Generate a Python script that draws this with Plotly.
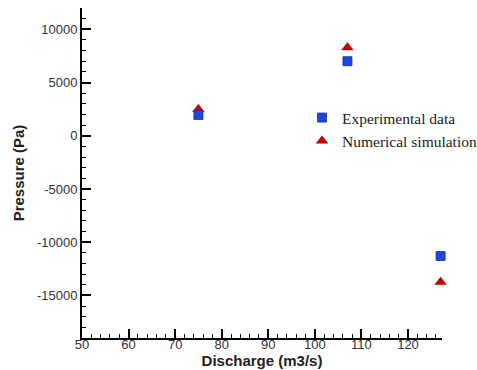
import plotly.graph_objects as go

discharge = [75, 107, 127]
experimental = [1950, 7000, -11300]
numerical = [2500, 8300, -13750]

x_ticks = [50, 60, 70, 80, 90, 100, 110, 120]
y_ticks = [-15000, -10000, -5000, 0, 5000, 10000]
y_tick_labels = ["-15000", "-10000", "-5000", "0", "5000", "10000"]

fig = go.Figure()
fig.add_trace(go.Scatter(
    x=discharge, y=numerical, mode="markers", name="Numerical simulation",
    marker=dict(symbol="triangle-up", size=10, color="#cc0000",
                line=dict(color="#990000", width=0.5)),
    cliponaxis=False,
))
fig.add_trace(go.Scatter(
    x=discharge, y=experimental, mode="markers", name="Experimental data",
    marker=dict(symbol="square", size=9, color="#1f45e0",
                line=dict(color="#1030a0", width=0.8)),
    cliponaxis=False,
))

axis_common = dict(
    showgrid=False, zeroline=False, showline=True, linecolor="black", linewidth=2,
    ticks="inside", ticklen=9, tickwidth=2, tickcolor="black",
    tickfont=dict(family="Liberation Sans, Arial", size=13, color="#333333"),
    mirror=False,
)

fig.update_layout(
    width=477, height=370,
    margin=dict(l=82, r=35, t=8, b=32, autoexpand=False),
    paper_bgcolor="white", plot_bgcolor="white",
    showlegend=True,
    legend=dict(
        x=(302 - 82) / 360, y=1 - (101 - 8) / 330, xanchor="left", yanchor="top",
        traceorder="reversed",
        font=dict(family="Liberation Serif, Times New Roman", size=15.5, color="#222222"),
        bgcolor="rgba(0,0,0,0)", itemwidth=30, tracegroupgap=0,
    ),
    xaxis=dict(
        range=[50, 127.3], tickvals=x_ticks, ticklabelstandoff=-7,
        minor=dict(dtick=2, ticks="inside", ticklen=4, tickwidth=1, tickcolor="black"),
        title=dict(text="<b>Discharge (m3/s)</b>", standoff=0,
                   font=dict(family="Liberation Sans, Arial", size=15, color="#222222")),
        **axis_common,
    ),
    yaxis=dict(
        range=[-19000, 12000], tickvals=y_ticks, ticktext=y_tick_labels,
        minor=dict(dtick=1000, ticks="inside", ticklen=4, tickwidth=1, tickcolor="black"),
        title=dict(text="<b>Pressure (Pa)</b>", standoff=9,
                   font=dict(family="Liberation Sans, Arial", size=15, color="#222222")),
        **axis_common,
    ),
)

fig.write_html("out.html", config={"displayModeBar": False},
               post_script="document.body.style.margin='0';document.body.style.overflow='hidden';")
